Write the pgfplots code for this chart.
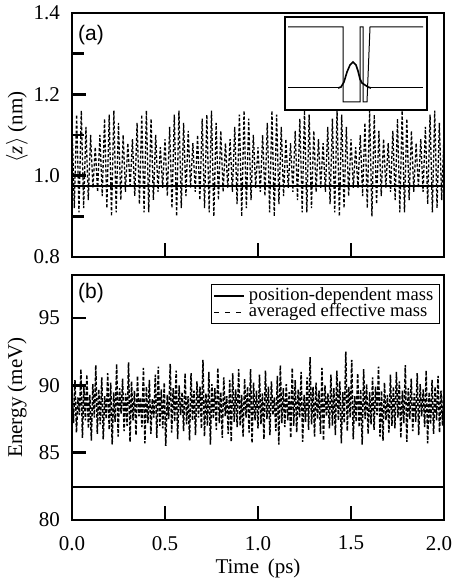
\documentclass[border=0pt]{standalone}
\usepackage{fontspec}
\setmainfont{Liberation Serif}
\newfontfamily\panelfont{Liberation Sans}
\usepackage{pgfplots}
\pgfplotsset{compat=1.18}

\pgfplotsset{
  panel/.style={
    scale only axis, width=186pt, xmin=0, xmax=2,
    axis line style={line width=1.2pt},
    every tick/.style={line width=1.2pt, black},
    tick align=inside, xtick pos=bottom, ytick pos=left,
    major tick length=7pt, minor tick length=6pt,
    xtick={0,0.5,1,1.5,2},
    tick label style={font=\fontsize{10.5}{12}\selectfont},
    xticklabel style={yshift=-4.5pt},
    yticklabel style={xshift=-2.5pt},
    label style={font=\fontsize{10.5}{12}\selectfont},
  },
  solidline/.style={black, line width=0.9pt},
  dashline/.style={black, line width=0.65pt, dash pattern=on 1.5pt off 1pt},
}

\begin{document}
\begin{tikzpicture}
\useasboundingbox (-36pt,-160.5pt) rectangle (191pt,128.5pt);

% (a) mean position
\begin{axis}[panel, name=top, at={(0,0)}, anchor=south west,
  height=122pt, ymin=0.8, ymax=1.4,
  ytick={0.8,1.0,1.2,1.4}, yticklabels={0.8,1.0,1.2,1.4},
  minor ytick={0.9,1.1,1.3},
  xticklabels={},
  ylabel={$\langle$\textit{z}$\rangle$ (nm)},
  ylabel style={at={([xshift=-27.5pt,yshift=4pt]axis description cs:0,0.5)}, anchor=center}]
\addplot[dashline] coordinates {
(0.000,1.13)(0.0125,0.92)(0.025,1.15)(0.0375,0.91)(0.050,1.16)(0.0625,0.92)(0.075,1.12)(0.0875,0.94)
(0.100,1.10)(0.1125,0.97)(0.125,1.07)(0.1375,0.96)(0.150,1.10)(0.1625,0.95)(0.175,1.14)(0.1875,0.92)
(0.200,1.15)(0.2125,0.90)(0.225,1.16)(0.2375,0.91)(0.250,1.13)(0.2625,0.94)(0.275,1.10)(0.2875,0.96)
(0.300,1.08)(0.3125,0.97)(0.325,1.09)(0.3375,0.95)(0.350,1.13)(0.3625,0.93)(0.375,1.15)(0.3875,0.91)
(0.400,1.16)(0.4125,0.91)(0.425,1.14)(0.4375,0.94)(0.450,1.10)(0.4625,0.96)(0.475,1.07)(0.4875,0.97)
(0.500,1.09)(0.5125,0.95)(0.525,1.12)(0.5375,0.92)(0.550,1.15)(0.5625,0.90)(0.575,1.16)(0.5875,0.92)
(0.600,1.13)(0.6125,0.95)(0.625,1.11)(0.6375,0.97)(0.650,1.08)(0.6625,0.96)(0.675,1.10)(0.6875,0.94)
(0.700,1.14)(0.7125,0.92)(0.725,1.15)(0.7375,0.91)(0.750,1.16)(0.7625,0.90)(0.775,1.13)(0.7875,0.94)
(0.800,1.11)(0.8125,0.96)(0.825,1.08)(0.8375,0.97)(0.850,1.09)(0.8625,0.96)(0.875,1.12)(0.8875,0.93)
(0.900,1.15)(0.9125,0.90)(0.925,1.16)(0.9375,0.92)(0.950,1.14)(0.9625,0.94)(0.975,1.10)(0.9875,0.97)
(1.000,1.07)(1.0125,0.96)(1.025,1.10)(1.0375,0.95)(1.050,1.13)(1.0625,0.91)(1.075,1.16)(1.0875,0.90)
(1.100,1.15)(1.1125,0.93)(1.125,1.12)(1.1375,0.95)(1.150,1.09)(1.1625,0.97)(1.175,1.08)(1.1875,0.96)
(1.200,1.11)(1.2125,0.94)(1.225,1.14)(1.2375,0.91)(1.250,1.16)(1.2625,0.91)(1.275,1.15)(1.2875,0.92)
(1.300,1.11)(1.3125,0.96)(1.325,1.09)(1.3375,0.97)(1.350,1.08)(1.3625,0.96)(1.375,1.12)(1.3875,0.93)
(1.400,1.14)(1.4125,0.91)(1.425,1.16)(1.4375,0.90)(1.450,1.15)(1.4625,0.92)(1.475,1.12)(1.4875,0.95)
(1.500,1.09)(1.5125,0.97)(1.525,1.07)(1.5375,0.97)(1.550,1.10)(1.5625,0.95)(1.575,1.13)(1.5875,0.92)
(1.600,1.16)(1.6125,0.90)(1.625,1.15)(1.6375,0.93)(1.650,1.11)(1.6625,0.95)(1.675,1.09)(1.6875,0.97)
(1.700,1.08)(1.7125,0.96)(1.725,1.11)(1.7375,0.94)(1.750,1.14)(1.7625,0.91)(1.775,1.16)(1.7875,0.91)
(1.800,1.14)(1.8125,0.94)(1.825,1.11)(1.8375,0.96)(1.850,1.08)(1.8625,0.97)(1.875,1.09)(1.8875,0.96)
(1.900,1.12)(1.9125,0.93)(1.925,1.15)(1.9375,0.91)(1.950,1.16)(1.9625,0.92)(1.975,1.13)(1.9875,0.94)
(2.000,1.10)};
\addplot[solidline] coordinates {(0,0.975)(2,0.975)};
\end{axis}

% inset: potential profile and wave packet
\begin{axis}[at={(106.5pt,73.5pt)}, anchor=south west,
  scale only axis, width=71pt, height=46.5pt,
  xmin=285, xmax=427, ymin=0, ymax=93, ticks=none,
  axis line style={line width=0.6pt},
  axis background/.style={fill=white}]
\addplot[black, line width=0.5pt] coordinates {
(288,83)(343,83)(343,8)(360,8)(360,83)(363,83)(363,8)(367,8)(370,83)(423,83)};
\addplot[black, line width=0.5pt] coordinates {(288,22)(338,22)};
\addplot[black, line width=0.5pt] coordinates {(370,22)(423,22)};
\addplot[black, line width=0.8pt] coordinates {
(338,22)(341,23)(344,28)(347,38)(350,45)(353,48)(356,45)(358,39)(360,31)(362,27)(365,25)(368,23)(371,22)};
\end{axis}

% (b) energy
\begin{axis}[panel, name=bot, at={(0,-9pt)}, anchor=north west,
  height=122.5pt, ymin=80, ymax=98.2,
  ytick={80,85,90,95}, yticklabels={80,85,90,95},
  xticklabels={0.0,0.5,1.0,1.5,{\hspace*{-5pt}2.0}},
  xlabel={Time\, (ps)}, ylabel={Energy (meV)},
  ylabel style={at={([xshift=-27.5pt]axis description cs:0,0.5)}, anchor=center},
  xlabel style={at={([yshift=-24pt]axis description cs:0.5,0)}, anchor=center},
  legend style={at={([xshift=-2pt,yshift=-4.5pt]rel axis cs:1,1)}, anchor=north east,
    draw=black, line width=0.6pt, font=\fontsize{9.3}{10.5}\selectfont,
    inner sep=1pt, row sep=-1.5pt,
    nodes={text height=6.5pt, text depth=2pt, inner ysep=0.5pt}},
  legend cell align=left]
\addplot[solidline, legend image code/.code={\draw[black, line width=0.9pt] (0pt,0pt) -- (15pt,0pt);}]
  coordinates {(0,82.45)(2,82.45)};
\addlegendentry{position-dependent mass}
\addplot[black, line width=0.75pt, dash pattern=on 1.8pt off 0.9pt,
  legend image code/.code={\draw[black, line width=0.6pt, dash pattern=on 2.5pt off 3pt] (0pt,0pt) -- (15pt,0pt);}]
  coordinates {
(0.000,89.6)(0.008,87.2)(0.016,90.4)(0.024,86.5)(0.032,89.1)(0.040,87.8)(0.048,91.2)(0.056,86.1)(0.064,89.9)(0.072,87.4)
(0.080,90.8)(0.088,86.8)(0.096,89.3)(0.104,85.9)(0.112,90.1)(0.120,87.6)(0.128,91.5)(0.136,86.4)(0.144,89.7)(0.152,87.1)
(0.160,90.6)(0.168,86.0)(0.176,89.2)(0.184,87.5)(0.192,90.9)(0.200,86.7)(0.208,90.2)(0.216,85.6)(0.224,89.5)(0.232,87.3)
(0.240,91.6)(0.248,86.2)(0.256,89.8)(0.264,87.9)(0.272,90.5)(0.280,86.6)(0.288,89.4)(0.296,87.0)(0.304,91.7)(0.312,85.8)
(0.320,90.3)(0.328,87.4)(0.336,89.6)(0.344,86.3)(0.352,90.7)(0.360,87.7)(0.368,89.1)(0.376,86.9)(0.384,91.3)(0.392,85.7)
(0.400,89.9)(0.408,87.2)(0.416,90.4)(0.424,86.4)(0.432,89.0)(0.440,87.6)(0.448,90.8)(0.456,86.1)(0.464,91.4)(0.472,87.0)
(0.480,89.7)(0.488,86.8)(0.496,90.2)(0.504,85.5)(0.512,89.3)(0.520,87.5)(0.528,91.6)(0.536,86.5)(0.544,89.8)(0.552,87.3)
(0.560,91.1)(0.568,86.0)(0.576,90.0)(0.584,87.8)(0.592,89.5)(0.600,86.6)(0.608,90.9)(0.616,87.1)(0.624,89.2)(0.632,85.9)
(0.640,90.9)(0.648,87.4)(0.656,89.6)(0.664,86.3)(0.672,90.3)(0.680,87.6)(0.688,89.9)(0.696,86.8)(0.704,91.9)(0.712,86.2)
(0.720,89.4)(0.728,87.0)(0.736,91.0)(0.744,85.6)(0.752,90.1)(0.760,87.5)(0.768,89.8)(0.776,86.7)(0.784,91.3)(0.792,87.2)
(0.800,89.5)(0.808,86.1)(0.816,90.6)(0.824,87.7)(0.832,89.2)(0.840,86.4)(0.848,90.4)(0.856,85.8)(0.864,90.9)(0.872,87.3)
(0.880,89.7)(0.888,86.9)(0.896,91.2)(0.904,87.0)(0.912,89.3)(0.920,86.2)(0.928,90.5)(0.936,87.6)(0.944,89.9)(0.952,86.5)
(0.960,91.2)(0.968,85.7)(0.976,90.2)(0.984,87.4)(0.992,89.6)(1.000,86.8)(1.008,90.8)(1.016,87.1)(1.024,89.4)(1.032,86.0)
(1.040,91.1)(1.048,87.5)(1.056,89.9)(1.064,86.3)(1.072,90.3)(1.080,87.8)(1.088,89.1)(1.096,86.6)(1.104,90.7)(1.112,85.6)
(1.120,91.5)(1.128,87.2)(1.136,89.8)(1.144,86.9)(1.152,90.1)(1.160,87.4)(1.168,89.5)(1.176,86.1)(1.184,91.3)(1.192,87.0)
(1.200,90.4)(1.208,86.5)(1.216,89.7)(1.224,87.6)(1.232,91.0)(1.240,85.8)(1.248,89.3)(1.256,87.3)(1.264,90.6)(1.272,86.7)
(1.280,92.1)(1.288,87.1)(1.296,89.9)(1.304,86.2)(1.312,90.2)(1.320,87.5)(1.328,89.6)(1.336,86.4)(1.344,91.3)(1.352,85.9)
(1.360,90.0)(1.368,87.7)(1.376,89.4)(1.384,86.8)(1.392,90.8)(1.400,87.0)(1.408,89.8)(1.416,86.3)(1.424,91.1)(1.432,87.4)
(1.440,90.3)(1.448,85.7)(1.456,89.5)(1.464,87.2)(1.472,92.5)(1.480,86.6)(1.488,89.9)(1.496,87.6)(1.504,91.9)(1.512,86.0)
(1.520,89.2)(1.528,87.3)(1.536,90.9)(1.544,86.9)(1.552,89.7)(1.560,85.6)(1.568,91.2)(1.576,87.5)(1.584,90.1)(1.592,86.4)
(1.600,89.5)(1.608,87.1)(1.616,90.6)(1.624,86.7)(1.632,89.9)(1.640,87.8)(1.648,91.4)(1.656,86.2)(1.664,89.6)(1.672,85.9)
(1.680,90.2)(1.688,87.4)(1.696,89.3)(1.704,86.5)(1.712,90.8)(1.720,87.0)(1.728,89.9)(1.736,86.8)(1.744,91.0)(1.752,87.6)
(1.760,90.3)(1.768,86.1)(1.776,89.6)(1.784,87.2)(1.792,91.5)(1.800,85.8)(1.808,89.8)(1.816,87.5)(1.824,90.5)(1.832,86.6)
(1.840,89.4)(1.848,87.3)(1.856,90.9)(1.864,86.3)(1.872,90.1)(1.880,87.7)(1.888,89.7)(1.896,86.9)(1.904,91.1)(1.912,85.7)
(1.920,89.5)(1.928,87.1)(1.936,90.4)(1.944,86.4)(1.952,89.9)(1.960,87.4)(1.968,90.7)(1.976,86.5)(1.984,89.6)(1.992,87.0)
(2.000,90.2)};
\addlegendentry{averaged effective mass}
\end{axis}

\node[font=\panelfont\fontsize{10.5}{12}\selectfont] at ([xshift=9.5pt,yshift=-11pt]top.north west) {(a)};
\node[font=\panelfont\fontsize{10.5}{12}\selectfont] at ([xshift=9.5pt,yshift=-9pt]bot.north west) {(b)};
\end{tikzpicture}
\end{document}
